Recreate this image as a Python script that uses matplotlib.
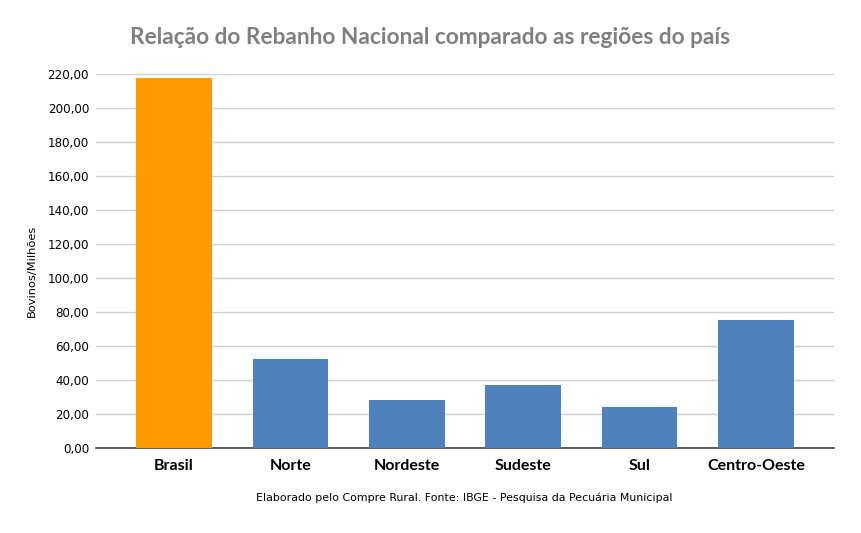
import matplotlib
matplotlib.use("Agg")
import matplotlib.pyplot as plt
from matplotlib.ticker import FuncFormatter

categories = ["Brasil", "Norte", "Nordeste", "Sudeste", "Sul", "Centro-Oeste"]
values = [217.6, 52.4, 28.2, 37.1, 24.1, 75.3]
colors = ["#FF9900", "#4F81BD", "#4F81BD", "#4F81BD", "#4F81BD", "#4F81BD"]
yticks = [0, 20, 40, 60, 80, 100, 120, 140, 160, 180, 200, 220]

fig = plt.figure(figsize=(8.61, 5.33), dpi=100)
ax = fig.add_axes([96/861, 85/533, 738/861, 374/533])
x = list(range(len(categories)))
ax.bar(x, values, width=0.65, color=colors, zorder=3)
ax.set_xlim(-0.67, 5.67)
ax.set_ylim(0, 220)
ax.set_yticks(yticks)
ax.yaxis.set_major_formatter(FuncFormatter(lambda v, p: f"{v:.2f}".replace(".", ",")))
ax.grid(axis="y", color="#D0D0D0", linewidth=1, zorder=0)
for s in ["top", "right", "left"]:
    ax.spines[s].set_visible(False)
ax.spines["bottom"].set_color("#404040")
ax.spines["bottom"].set_linewidth(1.2)
ax.tick_params(axis="y", length=0, labelsize=8.6, pad=5, labelcolor="#000000")
ax.tick_params(axis="x", length=0, pad=8)
ax.set_xticks(x)
ax.set_xticklabels(categories, fontsize=11.5, fontweight="bold", family="Lato")
ax.set_ylabel("Bovinos/Milhões", fontsize=8.2)
ax.yaxis.set_label_coords((37 - 96) / 738, (448 - 271) / 374)

fig.text(0.5, (533 - 38) / 533, "Relação do Rebanho Nacional comparado as regiões do país",
         ha="center", va="center", fontsize=16.3, fontweight="bold", color="#7F7F7F", family="Lato")
fig.text(464 / 861, (533 - 498) / 533, "Elaborado pelo Compre Rural. Fonte: IBGE - Pesquisa da Pecuária Municipal",
         ha="center", va="center", fontsize=7.9)

fig.savefig("out.png", dpi=100)
